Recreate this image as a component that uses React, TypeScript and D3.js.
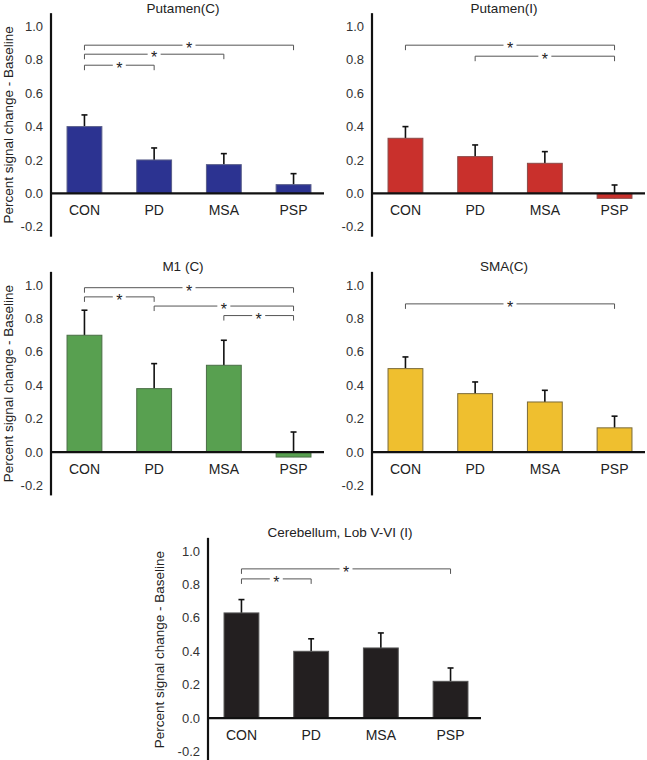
import React from "react";
import * as d3 from "d3";

const categories = ["CON", "PD", "MSA", "PSP"];
const yTicks = [1.0, 0.8, 0.6, 0.4, 0.2, 0.0, -0.2];

const putamenCMeans = [0.40, 0.20, 0.172, 0.052];
const putamenCErrors = [0.07, 0.072, 0.066, 0.066];
const putamenCBrackets: [number, number, number][] = [[0, 3, 0.888], [0, 2, 0.834], [0, 1, 0.768]];

const putamenIMeans = [0.33, 0.22, 0.18, -0.03];
const putamenIErrors = [0.07, 0.07, 0.07, 0.08];
const putamenIBrackets: [number, number, number][] = [[0, 3, 0.888], [1, 3, 0.822]];

const m1Means = [0.70, 0.38, 0.52, -0.03];
const m1Errors = [0.15, 0.15, 0.15, 0.15];
const m1Brackets: [number, number, number][] = [[0, 3, 0.985], [0, 1, 0.93], [1, 3, 0.875], [2, 3, 0.818]];

const smaMeans = [0.50, 0.35, 0.30, 0.145];
const smaErrors = [0.07, 0.07, 0.07, 0.07];
const smaBrackets: [number, number, number][] = [[0, 3, 0.888]];

const cereMeans = [0.63, 0.40, 0.42, 0.22];
const cereErrors = [0.08, 0.075, 0.09, 0.08];
const cereBrackets: [number, number, number][] = [[0, 3, 0.894], [0, 1, 0.834]];

const FONT = "'Liberation Sans', Arial, sans-serif";

type PanelProps = {
  title: string;
  x0: number;
  zeroY: number;
  means: number[];
  errors: number[];
  brackets: [number, number, number][];
  fill: string;
  stroke: string;
  showYLabel: boolean;
  yLabelX: number;
};

function Panel({ title, x0, zeroY, means, errors, brackets, fill, stroke, showYLabel, yLabelX }: PanelProps) {
  const y = d3.scaleLinear().domain([-0.2, 1.0]).range([zeroY + 33.4, zeroY - 166.8]);
  const x = d3.scaleBand<string>().domain(categories).range([x0, x0 + 276]).paddingInner(0.5).paddingOuter(0.23);
  const bw = x.bandwidth();
  const cx = (i: number) => (x(categories[i]) as number) + bw / 2;
  const axisTop = y(1.08);
  const axisBottom = y(-0.26);
  const plotMidX = (cx(0) + cx(3)) / 2;
  return (
    <g>
      <text x={plotMidX - 6} y={y(1.0) - 14} textAnchor="middle" fontSize={13.5} fill="#222" fontFamily={FONT}>
        {title}
      </text>
      {showYLabel && (
        <text
          transform={`translate(${yLabelX},${(axisTop + axisBottom) / 2}) rotate(-90)`}
          textAnchor="middle"
          fontSize={13.5}
          fill="#222"
          fontFamily={FONT}
        >
          Percent signal change - Baseline
        </text>
      )}
      {yTicks.map((t) => (
        <text key={t} x={x0 - 8} y={y(t)} dy="0.35em" textAnchor="end" fontSize={13} fill="#333" fontFamily={FONT}>
          {t.toFixed(1)}
        </text>
      ))}
      {brackets.map(([a, b, lv], k) => {
        const x1 = cx(a);
        const x2 = cx(b);
        const yy = y(lv);
        const mid = (x1 + x2) / 2;
        return (
          <g key={k} stroke="#555" strokeWidth={1} fill="none">
            <path d={`M${x1},${yy + 5}V${yy}H${mid - 6.5}`} />
            <path d={`M${x2},${yy + 5}V${yy}H${mid + 6.5}`} />
            <text x={mid} y={yy + 9} textAnchor="middle" fontSize={16} fill="#222" stroke="none" fontFamily={FONT}>
              *
            </text>
          </g>
        );
      })}
      {means.map((m, i) => (
        <g key={"e" + i} stroke="#111" strokeWidth={1.6}>
          <line x1={cx(i)} x2={cx(i)} y1={y(m)} y2={y(m + errors[i])} />
          <line x1={cx(i) - 3} x2={cx(i) + 3} y1={y(m + errors[i])} y2={y(m + errors[i])} />
        </g>
      ))}
      {means.map((m, i) => (
        <rect
          key={"b" + i}
          x={x(categories[i])}
          width={bw}
          y={Math.min(y(m), y(0))}
          height={Math.abs(y(m) - y(0))}
          fill={fill}
          stroke={stroke}
          strokeWidth={1}
        />
      ))}
      <line x1={x0} x2={x0} y1={axisTop} y2={axisBottom} stroke="#111" strokeWidth={2.2} />
      <line x1={x0} x2={x0 + 273} y1={y(0)} y2={y(0)} stroke="#111" strokeWidth={2.2} />
      {categories.map((c, i) => (
        <text key={c} x={cx(i)} y={y(0) + 22} textAnchor="middle" fontSize={14} fill="#222" fontFamily={FONT}>
          {c}
        </text>
      ))}
    </g>
  );
}

export default function App() {
  return (
    <svg width={647} height={760} style={{ position: "absolute", left: 0, top: 0, background: "#fff" }}>
      <rect width={647} height={760} fill="#fff" />
      <Panel title="Putamen(C)" x0={51} zeroY={193.3} means={putamenCMeans} errors={putamenCErrors}
        brackets={putamenCBrackets} fill="#2c3391" stroke="#5a5f8a" showYLabel yLabelX={13} />
      <Panel title="Putamen(I)" x0={372} zeroY={193.3} means={putamenIMeans} errors={putamenIErrors}
        brackets={putamenIBrackets} fill="#c9302c" stroke="#8a4a48" showYLabel={false} yLabelX={0} />
      <Panel title="M1 (C)" x0={51} zeroY={452} means={m1Means} errors={m1Errors}
        brackets={m1Brackets} fill="#58a050" stroke="#4a6e46" showYLabel yLabelX={13} />
      <Panel title="SMA(C)" x0={372} zeroY={452} means={smaMeans} errors={smaErrors}
        brackets={smaBrackets} fill="#efbf2f" stroke="#7a6a3a" showYLabel={false} yLabelX={0} />
      <Panel title="Cerebellum, Lob V-VI (I)" x0={208} zeroY={718} means={cereMeans} errors={cereErrors}
        brackets={cereBrackets} fill="#231f20" stroke="#555" showYLabel yLabelX={164} />
    </svg>
  );
}
